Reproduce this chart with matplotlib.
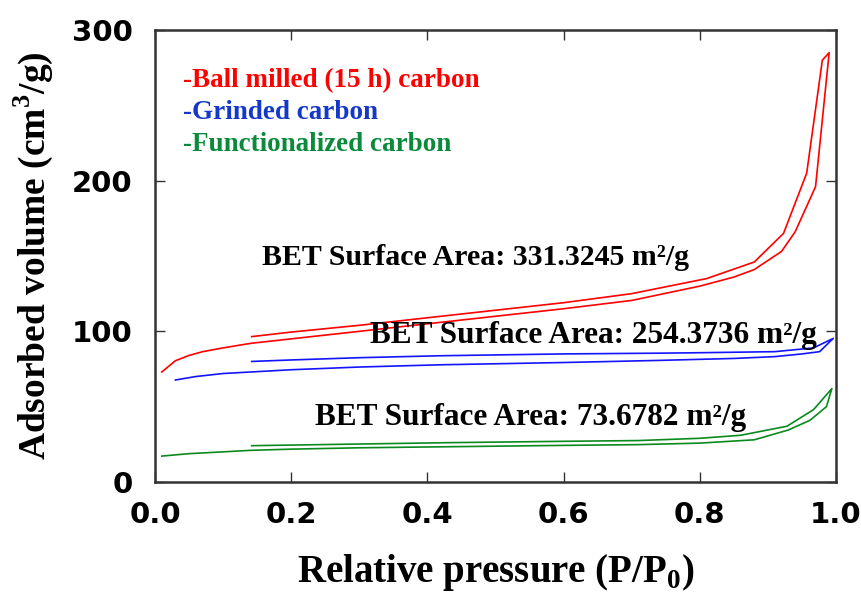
import matplotlib.pyplot as plt

plt.rcParams["mathtext.fontset"] = "custom"
plt.rcParams["mathtext.rm"] = "Liberation Serif:bold"
plt.rcParams["mathtext.bf"] = "Liberation Serif:bold"

# N2 isotherms: adsorption branch (ads) and desorption branch (des)
ball_ads_x = [0.01, 0.03, 0.05, 0.07, 0.10, 0.14, 0.20, 0.30, 0.40, 0.50, 0.60, 0.70, 0.80, 0.85, 0.88, 0.92, 0.94, 0.97, 0.99]
ball_ads_y = [73, 80.5, 84, 86.5, 89, 92, 95, 100, 105, 110, 115, 120.5, 130, 136, 141, 153, 166, 196, 285]
ball_des_x = [0.99, 0.98, 0.957, 0.923, 0.88, 0.81, 0.70, 0.60, 0.50, 0.40, 0.30, 0.20, 0.142]
ball_des_y = [285, 280, 205, 165, 146, 135, 125, 119, 114, 109, 104, 99.5, 96.5]

grind_ads_x = [0.03, 0.06, 0.10, 0.20, 0.30, 0.42, 0.60, 0.74, 0.85, 0.91, 0.95, 0.976, 0.996]
grind_ads_y = [67.7, 70, 72, 74.5, 76.3, 77.8, 79.3, 80.7, 82, 83.2, 85, 86.5, 95.3]
grind_des_x = [0.996, 0.967, 0.91, 0.80, 0.74, 0.60, 0.42, 0.30, 0.20, 0.142]
grind_des_y = [95.3, 89, 86.5, 85.8, 85.5, 85, 83.8, 82.5, 81, 80]

func_ads_x = [0.01, 0.05, 0.10, 0.14, 0.20, 0.30, 0.43, 0.60, 0.71, 0.80, 0.88, 0.93, 0.962, 0.986, 0.994]
func_ads_y = [17.2, 18.8, 20, 21, 21.8, 22.7, 23.4, 24.3, 24.8, 25.8, 28, 34.5, 41, 50, 62]
func_des_x = [0.994, 0.967, 0.928, 0.86, 0.80, 0.71, 0.60, 0.43, 0.30, 0.142]
func_des_y = [62, 48, 37, 31, 29, 27.5, 27, 26.1, 25.2, 24.1]

legend_labels = ["-Ball milled (15 h) carbon", "-Grinded carbon", "-Functionalized carbon"]
bet_labels = ["BET Surface Area: 331.3245 m\u00b2/g",
              "BET Surface Area: 254.3736 m\u00b2/g",
              "BET Surface Area: 73.6782 m\u00b2/g"]

serif = "Liberation Serif"

fig = plt.figure(figsize=(8.62, 5.93), dpi=100)
ax = fig.add_axes([0.1798, 0.1872, 0.79, 0.7622])

series = [
    (ball_ads_x, ball_ads_y, ball_des_x, ball_des_y, "#ff0000"),
    (grind_ads_x, grind_ads_y, grind_des_x, grind_des_y, "#1414ff"),
    (func_ads_x, func_ads_y, func_des_x, func_des_y, "#0a8a1e"),
]
for ax_x, ax_y, dx, dy, c in series:
    ax.plot(ax_x + dx[1:], ax_y + dy[1:], color=c, lw=1.2)

ax.set_xlim(0, 1.0)
ax.set_ylim(0, 300)
ax.set_xticks([0.0, 0.2, 0.4, 0.6, 0.8, 1.0])
ax.set_xticklabels(["0.0", "0.2", "0.4", "0.6", "0.8", "1.0"])
ax.set_yticks([0, 100, 200, 300])

ax.tick_params(direction="in", length=7, width=1, top=True, right=True, color="#333333")
ax.tick_params(axis="x", pad=14)
ax.tick_params(axis="y", pad=16)
for lab in ax.get_xticklabels() + ax.get_yticklabels():
    lab.set_fontfamily("DejaVu Sans")
    lab.set_fontweight("bold")
    lab.set_fontsize(21)
for sp in ax.spines.values():
    sp.set_linewidth(1.8)
    sp.set_color("#333333")

ax.set_xlabel(r"Relative pressure (P/P$_{\rm 0}$)", fontfamily=serif, fontweight="bold",
              fontsize=28, labelpad=16)
ax.set_ylabel(r"Adsorbed volume (cm$^{\rm 3}$/g)", fontfamily=serif, fontweight="bold",
              fontsize=27, labelpad=12)

legend_colors = ["#ff0000", "#1438c8", "#0a8a3a"]
legend_y = [0.889, 0.818, 0.747]
for txt, c, y in zip(legend_labels, legend_colors, legend_y):
    ax.text(0.041, y, txt, color=c, transform=ax.transAxes, fontfamily=serif,
            fontweight="bold", fontsize=19.5, va="center", ha="left")

bet_pos = [(0.157, 0.496), (0.316, 0.325), (0.235, 0.142)]
bet_size = [21.5, 22.5, 22.5]
for txt, (x, y), fs in zip(bet_labels, bet_pos, bet_size):
    ax.text(x, y, txt, color="black", transform=ax.transAxes, fontfamily=serif,
            fontweight="bold", fontsize=fs, va="center", ha="left")

fig.savefig("out.png", dpi=100)
